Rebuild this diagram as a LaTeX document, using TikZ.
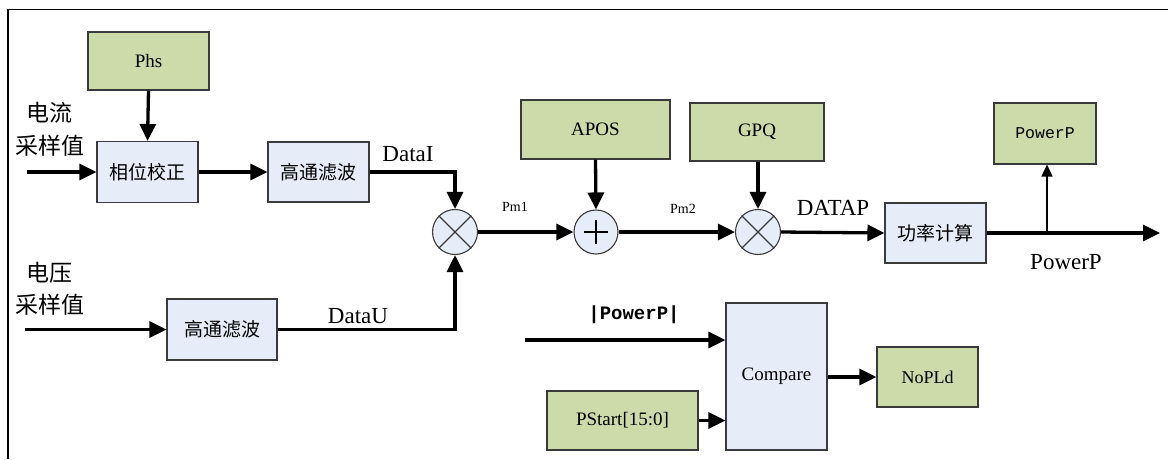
\documentclass[tikz,border=0pt]{standalone}
\usepackage{fontspec}
\setmainfont{Liberation Serif}
\newfontfamily\cjk{Noto Sans CJK SC}
\newfontfamily\monof{Liberation Mono}
\usetikzlibrary{arrows.meta,calc}
\definecolor{gbox}{HTML}{CDDBAA}
\definecolor{bbox}{HTML}{E6EDF8}
\definecolor{edge}{HTML}{3A3A3A}
\tikzset{
  gblock/.style={draw=edge,line width=1.1pt,fill=gbox,inner sep=0pt,minimum width=#1},
  bblock/.style={draw=edge,line width=1.1pt,fill=bbox,inner sep=0pt},
  opc/.style={circle,draw=edge,line width=1.1pt,fill=bbox,minimum size=45pt,inner sep=0pt},
  conn/.style={line width=3.3pt,-{Triangle[length=17pt,width=16pt]}},
  fA/.style={font=\fontsize{19}{22}\selectfont},
  fL/.style={font=\fontsize{23}{26}\selectfont},
  fS/.style={font=\fontsize{14}{16}\selectfont},
  fC/.style={font=\cjk\fontsize{19}{22}\selectfont},
  fCL/.style={font=\cjk\fontsize{23}{26}\selectfont},
}
\begin{document}
\begin{tikzpicture}[x=1pt,y=-1pt]
\useasboundingbox (0,0) rectangle (1168,459);
% frame
\draw[line width=1.8pt] (8,459) -- (8,9.5) -- (1168,9.5);
% nodes
\node[gblock=121pt,minimum height=58pt,fA] (phs) at (148.5,61) {Phs};
\node[bblock,minimum width=101pt,minimum height=61pt,fC] (phase) at (147.5,172) {相位校正};
\node[bblock,minimum width=101pt,minimum height=60pt,fC] (hpf1) at (318.5,172) {高通滤波};
\node[bblock,minimum width=110pt,minimum height=61pt,fC] (hpf2) at (222,329.5) {高通滤波};
\node[opc] (mul1) at (455,232) {};
\draw[edge,line width=1.1pt] (mul1.north west) -- (mul1.south east) (mul1.north east) -- (mul1.south west);
\node[opc,minimum size=44pt] (plus) at (596,232) {};
\draw[black,line width=1.4pt] ($(plus.center)+(-12,0)$) -- ($(plus.center)+(12,0)$) ($(plus.center)+(0,-12)$) -- ($(plus.center)+(0,12)$);
\node[gblock=149pt,minimum height=59pt,fA] (apos) at (595.5,129.5) {APOS};
\node[gblock=134pt,minimum height=58pt,fA] (gpq) at (757,132) {GPQ};
\node[opc] (mul2) at (758,232) {};
\draw[edge,line width=1.1pt] (mul2.north west) -- (mul2.south east) (mul2.north east) -- (mul2.south west);
\node[bblock,minimum width=101pt,minimum height=60pt,fC] (pcalc) at (935.5,233) {功率计算};
\node[gblock=102pt,minimum height=61pt,font=\monof\fontsize{16.5}{18}\selectfont] (powbox) at (1045,133.5) {PowerP};
\node[bblock,minimum width=101pt,minimum height=147pt,fA] (cmp) at (776.5,376.5) {Compare};
\node[gblock=151pt,minimum height=59pt,fA] (pstart) at (622.5,420.5) {PStart[15:0]};
\node[gblock=101pt,minimum height=60pt,font=\fontsize{18}{20}\selectfont] (nopld) at (927.5,377) {NoPLd};
% labels
\node[fCL] (l1a) at (50,113) {电流};
\node[fCL] (l1b) at (50,146) {采样值};
\node[fCL] (l2a) at (49,273) {电压};
\node[fCL] (l2b) at (50,305) {采样值};
\node[fL] (ldi) at (408,154) {DataI};
\node[fL] (ldu) at (358,316) {DataU};
\node[fS] (lpm1) at (515,207) {Pm1};
\node[fS] (lpm2) at (683,209) {Pm2};
\node[fL] (ldp) at (833,208) {DATAP};
\node[fL] (lpp) at (1066,262) {PowerP};
\node[font=\monof\bfseries\fontsize{19}{21}\selectfont] (labs) at (634,315) {|PowerP|};
% coordinates
\coordinate (in1) at (27,172);
\coordinate (in2) at (25,329.5);
\coordinate (in3) at (525,340);
\coordinate (out) at (1160,233);
\coordinate (tap) at (1047,233);
% connectors
\draw[conn] (in1) -- (phase.west);
\draw[conn] (phs.south) -- (phase.north);
\draw[conn] (phase.east) -- (hpf1.west);
\draw[conn] (hpf1.east) -| (mul1.north);
\draw[conn] (in2) -- (hpf2.west);
\draw[conn] (hpf2.east) -| (mul1.south);
\draw[conn] (mul1.east) -- (plus.west);
\draw[conn] (apos.south) -- (plus.north);
\draw[conn] (plus.east) -- (mul2.west);
\draw[conn] (gpq.south -| mul2.north) -- (mul2.north);
\draw[conn] (mul2.east) -- (pcalc.west);
\draw[conn] (pcalc.east) -- (out);
\draw[line width=1.6pt,-{Triangle[length=12pt,width=11pt]}] (tap) -- (tap |- powbox.south);
\draw[conn] (in3) -- (in3 -| cmp.west);
\draw[conn] (pstart.east) -- (pstart.east -| cmp.west);
\draw[conn] (cmp.east |- nopld.west) -- (nopld.west);
\end{tikzpicture}
\end{document}
